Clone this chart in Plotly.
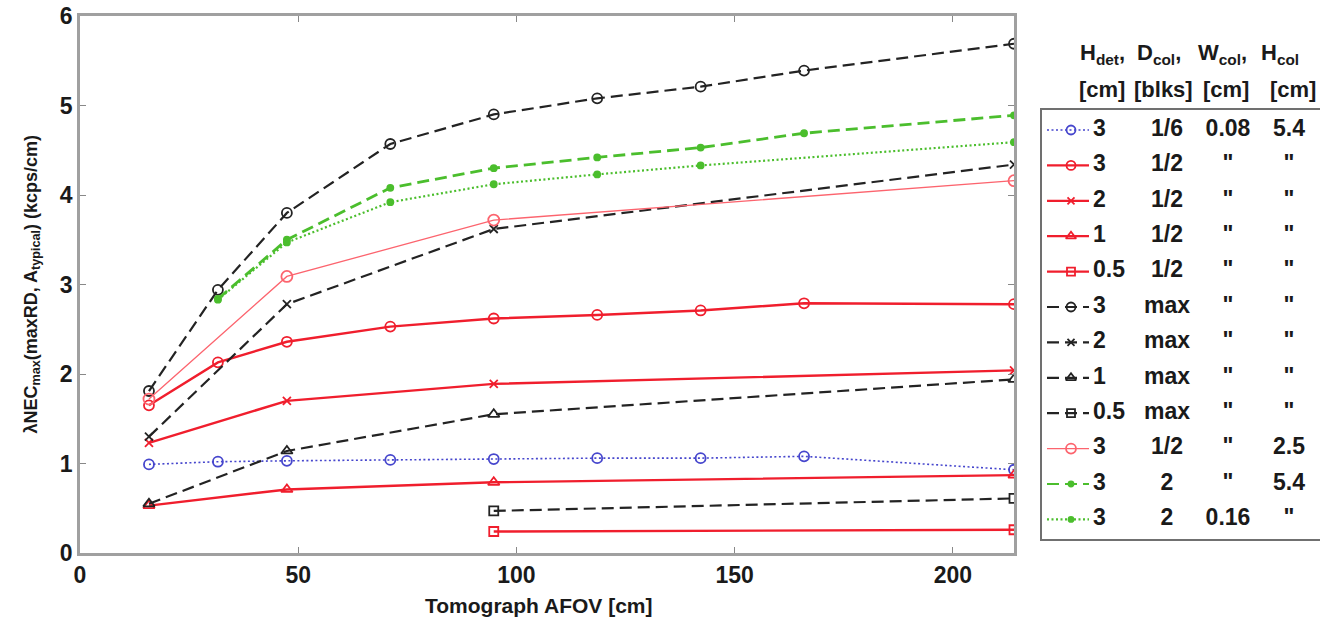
import plotly.graph_objects as go

# ---------------- data ----------------
afov_all = [15.8, 31.6, 47.4, 71.1, 94.8, 118.5, 142.2, 165.9, 214.0]
afov_sparse = [15.8, 47.4, 94.8, 214.0]
afov_long = [94.8, 214.0]
afov_green = [31.6, 47.4, 71.1, 94.8, 118.5, 142.2, 165.9, 214.0]
afov_green_dot = [31.6, 47.4, 71.1, 94.8, 118.5, 142.2, 214.0]

nec_h3_d16 = [0.99, 1.02, 1.03, 1.04, 1.05, 1.06, 1.06, 1.08, 0.93]
nec_h3_d12 = [1.65, 2.13, 2.36, 2.53, 2.62, 2.66, 2.71, 2.79, 2.78]
nec_h2_d12 = [1.23, 1.70, 1.89, 2.04]
nec_h1_d12 = [0.53, 0.71, 0.79, 0.87]
nec_h05_d12 = [0.24, 0.26]
nec_h3_max = [1.81, 2.94, 3.80, 4.57, 4.90, 5.08, 5.21, 5.39, 5.69]
nec_h2_max = [1.30, 2.78, 3.62, 4.34]
nec_h1_max = [0.55, 1.14, 1.55, 1.94]
nec_h05_max = [0.47, 0.61]
nec_h3_d12_hc25 = [1.72, 3.09, 3.72, 4.16]
nec_h3_d2 = [2.84, 3.50, 4.08, 4.30, 4.42, 4.53, 4.69, 4.89]
nec_h3_d2_w016 = [2.83, 3.47, 3.92, 4.12, 4.23, 4.33, 4.59]

col_hdet = ["3", "3", "2", "1", "0.5", "3", "2", "1", "0.5", "3", "3", "3"]
col_dcol = ["1/6", "1/2", "1/2", "1/2", "1/2", "max", "max", "max", "max", "1/2", "2", "2"]
col_wcol = ["0.08", '"', '"', '"', '"', '"', '"', '"', '"', '"', '"', "0.16"]
col_hcol = ["5.4", '"', '"', '"', '"', '"', '"', '"', '"', "2.5", "5.4", '"']

header_names = ["H<sub>det</sub>,", "D<sub>col</sub>,", "W<sub>col</sub>,", "H<sub>col</sub>"]
header_units = ["[cm]", "[blks]", "[cm]", "[cm]"]

x_ticks = [0, 50, 100, 150, 200]
y_ticks = [0, 1, 2, 3, 4, 5, 6]

# ---------------- styles ----------------
BLUE = "rgb(70,70,205)"
RED = "rgb(240,30,45)"
PINK = "rgb(252,100,110)"
BLACK = "rgb(35,35,35)"
GREEN = "rgb(75,190,45)"
LONGDASH = "12px,6px"
FINEDOT = "2px,2.5px"

series = [
    (afov_all, nec_h3_d16, BLUE, FINEDOT, 1.6, "circle-open", 10),
    (afov_all, nec_h3_d12, RED, "solid", 2.4, "circle-open", 10),
    (afov_sparse, nec_h2_d12, RED, "solid", 2.4, "x-thin-open", 8),
    (afov_sparse, nec_h1_d12, RED, "solid", 2.4, "triangle-up-open", 10),
    (afov_long, nec_h05_d12, RED, "solid", 2.4, "square-open", 9),
    (afov_all, nec_h3_max, BLACK, LONGDASH, 2.2, "circle-open", 10),
    (afov_sparse, nec_h2_max, BLACK, LONGDASH, 2.2, "x-thin-open", 8),
    (afov_sparse, nec_h1_max, BLACK, LONGDASH, 2.2, "triangle-up-open", 10),
    (afov_long, nec_h05_max, BLACK, LONGDASH, 2.2, "square-open", 9),
    (afov_sparse, nec_h3_d12_hc25, PINK, "solid", 1.3, "circle-open", 11),
    (afov_green, nec_h3_d2, GREEN, LONGDASH, 2.8, "circle", 6),
    (afov_green_dot, nec_h3_d2_w016, GREEN, FINEDOT, 2.2, "circle", 6),
]

FONT = "Liberation Sans, Arial, sans-serif"
fig = go.Figure()

for xs, ys, col, dash, lw, sym, ms in series:
    fig.add_trace(go.Scatter(
        x=xs, y=ys, mode="lines+markers", showlegend=False, hoverinfo="skip",
        line=dict(color=col, dash=dash, width=lw),
        marker=dict(symbol=sym, size=ms, color=col, line=dict(color=col, width=1.8)),
        xaxis="x", yaxis="y"))

# ---------------- custom legend drawn on a second (hidden) axis ----------------
L, R, T, B = 80, 18, 16, 71
W = 1338 - L - R
PLOT_RIGHT = 1014
row0, rowstep = 130, 35.4
row_y = [row0 + i * rowstep for i in range(len(series))]

for (xs, ys, col, dash, lw, sym, ms), ry in zip(series, row_y):
    fig.add_trace(go.Scatter(
        x=[1047, 1089], y=[ry, ry], mode="lines", showlegend=False, hoverinfo="skip",
        line=dict(color=col, dash=dash, width=min(lw, 2.2)), xaxis="x2", yaxis="y2"))
    fig.add_trace(go.Scatter(
        x=[1071], y=[ry], mode="markers", showlegend=False, hoverinfo="skip",
        marker=dict(symbol=sym, size=ms - 1, color=col, line=dict(color=col, width=1.8)),
        xaxis="x2", yaxis="y2"))

LEG_FONT = dict(family=FONT, size=23, color="#1a1a1a", weight="bold")
for xpos, texts, pos in [(1093, col_hdet, "middle right"), (1167, col_dcol, "middle center"),
                         (1228, col_wcol, "middle center"), (1289, col_hcol, "middle center")]:
    fig.add_trace(go.Scatter(
        x=[xpos] * len(texts), y=row_y, mode="text", text=texts, textposition=pos,
        textfont=LEG_FONT, showlegend=False, hoverinfo="skip", xaxis="x2", yaxis="y2"))

HDR_FONT = dict(family=FONT, size=22, color="#1a1a1a", weight="bold")
annotations = []
for t, x0 in zip(header_names, [1078, 1135, 1196, 1259]):
    annotations.append(dict(text=t, x=x0, y=54, xref="x2", yref="y2", xanchor="left",
                            showarrow=False, font=HDR_FONT))
for t, x0 in zip(header_units, [1077, 1132, 1201, 1268]):
    annotations.append(dict(text=t, x=x0, y=89, xref="x2", yref="y2", xanchor="left",
                            showarrow=False, font=HDR_FONT))
annotations += [
    dict(text="λNEC<sub>max</sub>(maxRD, A<sub>typical</sub>) (kcps/cm)",
         x=(32 - L) / W, y=0.5, xref="paper", yref="paper", xanchor="center", yanchor="middle",
         textangle=-90, showarrow=False,
         font=dict(family=FONT, size=18, color="#1a1a1a", weight="bold")),
    dict(text="Tomograph AFOV [cm]", x=(539 - L) / W, y=-(605 - 553) / (624 - T - B),
         xref="paper", yref="paper", xanchor="center", yanchor="middle", showarrow=False,
         font=dict(family=FONT, size=21, color="#1a1a1a", weight="bold")),
]

shapes = [dict(type="rect", xref="x2", yref="y2", x0=1041, x1=1321, y0=109, y1=540,
               line=dict(color="#707070", width=2), fillcolor="rgba(0,0,0,0)")]

TICK_FONT = dict(size=23, family=FONT, color="#1a1a1a", weight="bold")
fig.update_layout(
    width=1338, height=624,
    margin=dict(l=L, r=R, t=T, b=B, autoexpand=False),
    paper_bgcolor="white", plot_bgcolor="white",
    font=dict(family=FONT, color="#111"),
    xaxis=dict(domain=[0, (PLOT_RIGHT - L) / W], range=[0, 214], tickvals=x_ticks,
               ticks="inside", ticklen=6, tickcolor="#888", showgrid=False, zeroline=False,
               showline=True, linecolor="#a0a0a0", linewidth=2.5, mirror="ticks",
               tickfont=TICK_FONT, automargin=False),
    yaxis=dict(domain=[0, 1], range=[0, 6], tickvals=y_ticks,
               ticks="inside", ticklen=6, tickcolor="#888", showgrid=False, zeroline=False,
               showline=True, linecolor="#a0a0a0", linewidth=2.5, mirror="ticks",
               tickfont=TICK_FONT, automargin=False),
    xaxis2=dict(domain=[(1036 - L) / W, 1.0], range=[1036, 1338 - R], visible=False,
                fixedrange=True, automargin=False),
    yaxis2=dict(domain=[0, 1], range=[624 - B, T], visible=False, fixedrange=True,
                anchor="x2", automargin=False),
    annotations=annotations,
    shapes=shapes,
)

fig.write_html(
    "out.html",
    config={"displayModeBar": False},
    post_script="document.body.style.margin='0';document.body.style.overflow='hidden';",
)
